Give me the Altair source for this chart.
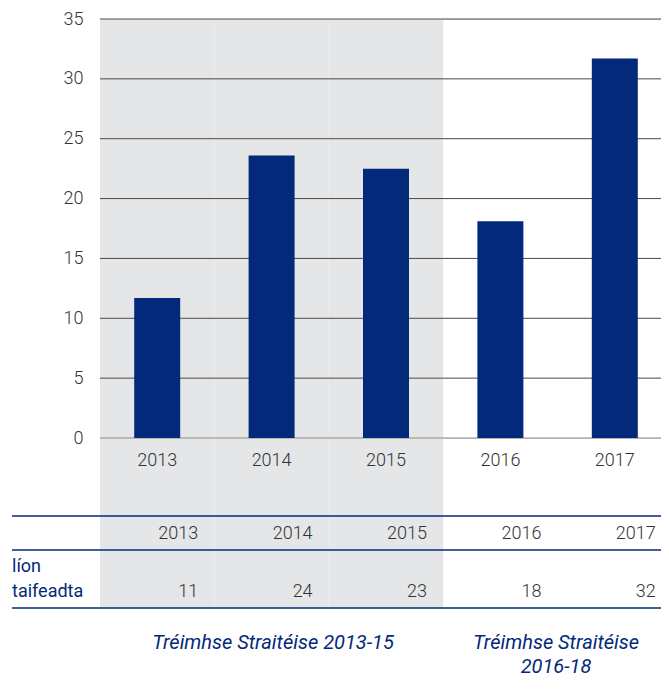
import altair as alt
import pandas as pd

# ---- data ----
years = ["2013", "2014", "2015", "2016", "2017"]
bar_values = [11.7, 23.6, 22.5, 18.1, 31.7]
table_values = ["11", "24", "23", "18", "32"]
period1_years = ["2013", "2014", "2015"]
y_ticks = [0, 5, 10, 15, 20, 25, 30, 35]
row_label = ["líon", "taifeadta"]
caption1 = "Tréimhse Straitéise 2013-15"
caption2 = ["Tréimhse Straitéise", "2016-18"]

NAVY = "#03297a"
GREY_BG = "#e5e6e8"
TXT = "#333333"
FONT = "Roboto"
FS = 18
FW = 300

df = pd.DataFrame({"year": years, "value": bar_values, "count": table_values})
shade_df = pd.DataFrame({"year": period1_years})
grid_df = pd.DataFrame({"tick": y_ticks})
one = pd.DataFrame({"k": [0]})

W, H = 561, 419
TOP = 11

xscale = alt.Scale(domain=years, paddingInner=0, paddingOuter=0, range=[0, 572])
yscale = alt.Scale(domain=[0, 35], nice=False, zero=True)

x_axis = alt.Axis(title=None, labelAngle=0, ticks=False, domain=False,
                  labelPadding=13, labelFontSize=FS, labelColor=TXT,
                  labelFont=FONT, labelFontWeight=FW, grid=False)
y_axis = alt.Axis(title=None, values=y_ticks, ticks=False, domain=False,
                  grid=False, labelPadding=17, labelFontSize=FS,
                  labelColor=TXT, labelFont=FONT, labelFontWeight=FW)

X = alt.X("year:N", scale=xscale, axis=x_axis, title=None)

# page y -> plot y
def py(page_y):
    return page_y - 8 - TOP

shade = alt.Chart(shade_df).mark_rect(color=GREY_BG).encode(
    x=X,
    y=alt.value(0),
    y2=alt.value(py(608)),
)

grid = alt.Chart(grid_df).mark_rule(strokeWidth=1).encode(
    y=alt.Y("tick:Q", scale=yscale, axis=y_axis, title=None),
    color=alt.condition(alt.datum.tick == 0, alt.value("#8a8a8a"), alt.value("#4a4a4a")),
)

bars = alt.Chart(df).mark_bar(color=NAVY, width=alt.RelativeBandSize(0.402)).encode(
    x=X,
    y=alt.Y("value:Q", scale=yscale, axis=y_axis, title=None),
)

def hline(page_y):
    return alt.Chart(one).mark_rule(color=NAVY, strokeWidth=1.5).encode(
        x=alt.value(-88), x2=alt.value(W), y=alt.value(py(page_y))
    )

table_years = alt.Chart(df).mark_text(
    align="right", dx=41, baseline="alphabetic", fontSize=FS,
    font=FONT, fontWeight=FW, color=TXT,
).encode(x=X, y=alt.value(py(539)), text="year:N")

table_counts = alt.Chart(df).mark_text(
    align="right", dx=41, baseline="alphabetic", fontSize=FS,
    font=FONT, fontWeight=FW, color=TXT,
).encode(x=X, y=alt.value(py(597)), text="count:N")

label = alt.Chart(one).mark_text(
    align="left", baseline="alphabetic", fontSize=FS, font=FONT,
    color=NAVY, text=row_label, lineHeight=25,
).encode(x=alt.value(-88), y=alt.value(py(572)))

cap1 = alt.Chart(one).mark_text(
    align="center", baseline="alphabetic", fontSize=20, font=FONT,
    fontStyle="italic", color=NAVY, text=caption1,
).encode(x=alt.value(173), y=alt.value(py(649)))

cap2 = alt.Chart(one).mark_text(
    align="center", baseline="alphabetic", fontSize=20, font=FONT,
    fontStyle="italic", color=NAVY, text=caption2, lineHeight=24,
).encode(x=alt.value(456), y=alt.value(py(649)))

chart = alt.layer(
    shade, grid, bars,
    hline(516), hline(550), hline(608),
    table_years, table_counts, label, cap1, cap2,
).properties(
    width=W, height=H,
    autosize=alt.AutoSizeParams(type="none"),
    padding={"left": 92, "top": TOP, "right": 0, "bottom": 669 - TOP - H},
).configure_view(stroke=None).configure(background="white")

chart.save("out.html", embed_options={"renderer": "svg", "actions": False})
